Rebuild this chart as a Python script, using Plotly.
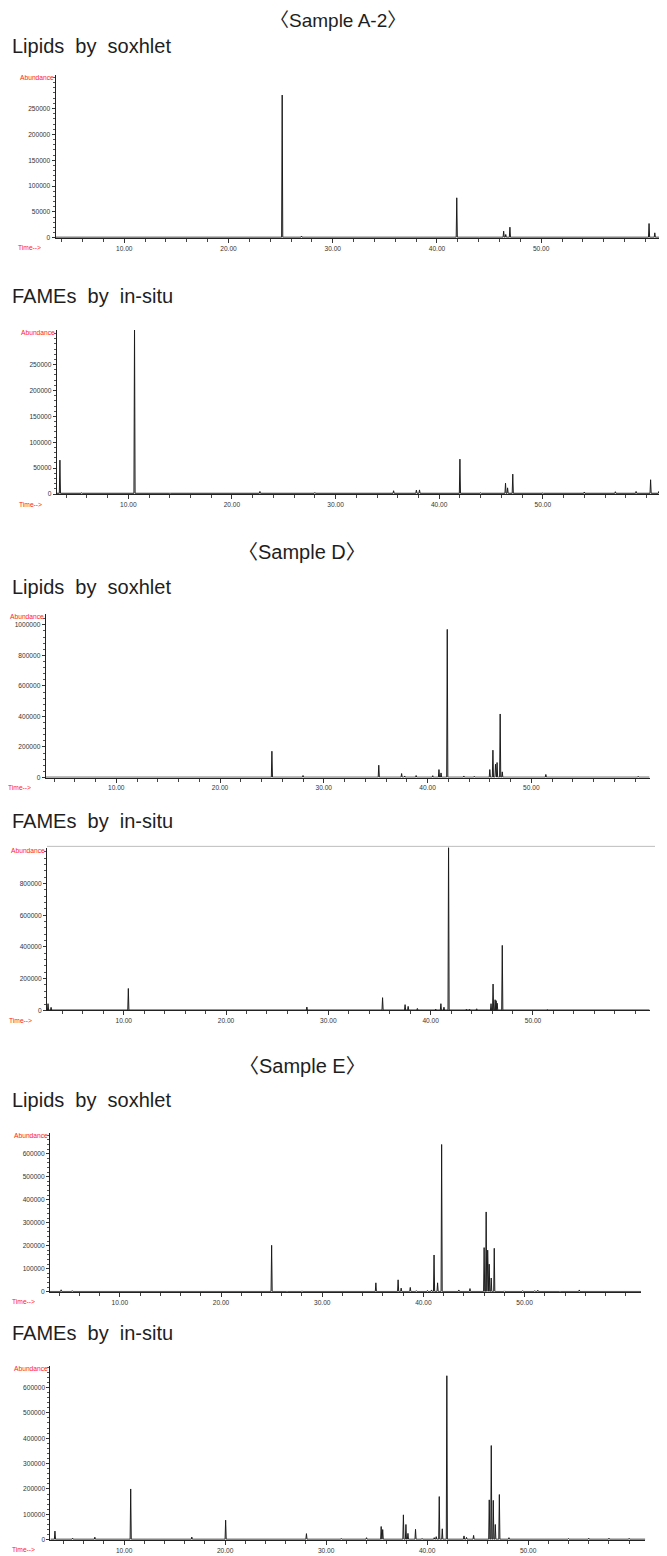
import plotly.graph_objects as go

# ---------------- data (retention time in min, abundance) ----------------
A2_LIPID_RT = [4.5, 8.0, 12.0, 17.0, 22.0, 25.15, 27.0, 30.0, 33.0, 37.5, 41.9, 44.0, 46.4, 46.6, 47.0, 52.0, 56.0, 60.35, 60.9]
A2_LIPID_AB = [2000, 2000, 1800, 2000, 1800, 276000, 3500, 1800, 2000, 2500, 77400, 2000, 12900, 6500, 20600, 2000, 2500, 27700, 9700]

A2_FAME_RT = [3.4, 5.5, 10.6, 14.0, 22.7, 28.0, 35.6, 37.8, 38.1, 42.0, 44.0, 46.4, 46.6, 47.1, 50.0, 54.0, 57.0, 59.0, 60.4, 61.2]
A2_FAME_AB = [65500, 2500, 330000, 2000, 5000, 3000, 6400, 7700, 8000, 67400, 2500, 21000, 12000, 38500, 2500, 4000, 4500, 5000, 27600, 5000]

D_LIPID_RT = [25.0, 28.0, 35.3, 37.5, 37.8, 38.9, 40.5, 41.1, 41.3, 41.9, 43.5, 44.5, 46.0, 46.3, 46.55, 46.7, 47.0, 47.2, 51.4, 55.0, 59.0, 60.3]
D_LIPID_AB = [172000, 13000, 80600, 26000, 10000, 13000, 12000, 52000, 30000, 970000, 10000, 8000, 52000, 179000, 87000, 98000, 416000, 37000, 20000, 4000, 6000, 8000]

D_FAME_RT = [2.6, 2.9, 10.45, 27.9, 34.0, 35.3, 37.5, 37.8, 38.7, 40.5, 41.0, 41.3, 41.75, 43.5, 43.8, 44.5, 45.9, 46.1, 46.3, 46.4, 46.5, 47.0, 51.4, 55.2, 60.2]
D_FAME_AB = [42000, 19000, 138000, 21000, 5000, 80000, 36000, 25000, 12000, 8000, 42000, 20000, 1080000, 8000, 8000, 10000, 42000, 166000, 67000, 61000, 45000, 410000, 6000, 4000, 6000]

E_LIPID_RT = [4.2, 5.3, 23.4, 24.0, 25.0, 26.5, 28.0, 34.0, 35.3, 37.5, 37.8, 38.7, 39.3, 40.4, 40.8, 41.05, 41.4, 41.8, 43.5, 44.6, 46.0, 46.2, 46.35, 46.5, 46.7, 47.0, 48.0, 49.8, 51.0, 51.3, 53.5, 55.4, 57.0, 58.5, 60.0]
E_LIPID_AB = [8700, 5000, 2000, 2500, 202000, 2500, 4000, 3000, 39000, 52000, 16000, 19000, 5000, 6000, 8000, 160000, 39000, 640000, 8000, 14000, 192000, 347000, 181000, 120000, 60000, 189000, 4000, 5000, 5000, 7000, 3000, 8000, 3500, 4000, 3500]

E_FAME_RT = [3.15, 4.9, 7.1, 10.65, 16.7, 20.05, 28.05, 31.5, 34.0, 35.45, 35.6, 37.65, 37.9, 38.1, 38.85, 39.5, 40.7, 40.9, 41.2, 41.5, 41.95, 43.65, 43.9, 44.6, 46.15, 46.35, 46.55, 46.75, 47.15, 48.1, 49.9, 54.0, 56.0, 58.0, 60.0]
E_FAME_AB = [34000, 6000, 10000, 200000, 10500, 77000, 24000, 5000, 8000, 52000, 40000, 98000, 60000, 25000, 41000, 5000, 8000, 12000, 170000, 43000, 646000, 15000, 9000, 17000, 157000, 371000, 155000, 60000, 178000, 8000, 4000, 5000, 6000, 6000, 5500]

TIME_TICKS = [10, 20, 30, 40, 50]
TIME_LABELS = ["10.00", "20.00", "30.00", "40.00", "50.00"]
Y_TICKS_A2 = [0, 50000, 100000, 150000, 200000, 250000]
Y_TICKS_D_LIPID = [0, 200000, 400000, 600000, 800000, 1000000]
Y_TICKS_D_FAME = [0, 200000, 400000, 600000, 800000]
Y_TICKS_E = [0, 100000, 200000, 300000, 400000, 500000, 600000]

SECTION_TITLES = ["\u3008Sample A-2\u3009", "\u3008Sample D\u3009", "\u3008Sample E\u3009"]
PANEL_TITLES = ["Lipids\u00a0 by\u00a0 soxhlet", "FAMEs\u00a0 by\u00a0 in-situ"]

# ---------------- geometry / styling ----------------
PAGE_W, PAGE_H = 667, 1556
OFF = 8  # default page body margin in the written HTML
W, H = PAGE_W - OFF, PAGE_H - OFF
HALF_W = 0.055  # peak half-width (min)


def fx(px):
    return (px - OFF) / W


def fy(py):
    return 1 - (py - OFF) / H


panels = [
    # rt, ab, baseline, page-pixel geometry (left, right, zero, top), x range, ymax, yticks, minor dtick
    dict(rt=A2_LIPID_RT, ab=A2_LIPID_AB, base=1200, px=(55.5, 660, 238.3, 75), xr=(3.4, 61.4), ymax=315000, yt=Y_TICKS_A2, ym=10000),
    dict(rt=A2_FAME_RT, ab=A2_FAME_AB, base=1500, px=(56.8, 662, 495, 330.7), xr=(3.1, 61.5), ymax=316600, yt=Y_TICKS_A2, ym=10000),
    dict(rt=D_LIPID_RT, ab=D_LIPID_AB, base=2000, px=(45.7, 649.6, 779, 615), xr=(3.2, 61.4), ymax=1072000, yt=Y_TICKS_D_LIPID, ym=40000),
    dict(rt=D_FAME_RT, ab=D_FAME_AB, base=2000, px=(47, 649.6, 1012.3, 849.3), xr=(2.5, 61.4), ymax=1026800, yt=Y_TICKS_D_FAME, ym=40000),
    dict(rt=E_LIPID_RT, ab=E_LIPID_AB, base=1500, px=(50, 641, 1294.3, 1135), xr=(3.1, 61.5), ymax=690800, yt=Y_TICKS_E, ym=20000),
    dict(rt=E_FAME_RT, ab=E_FAME_AB, base=2000, px=(50.4, 645.3, 1542.7, 1369), xr=(2.7, 61.6), ymax=683000, yt=Y_TICKS_E, ym=20000),
]

fig = go.Figure()
TICK_FONT = dict(family="Liberation Sans, Arial, sans-serif", size=6.6, color="#333")
RED_FONT = dict(family="Liberation Sans, Arial, sans-serif", size=6.7, color="#ff2020")

for i, p in enumerate(panels, start=1):
    pairs = sorted(zip(p["rt"], p["ab"]))
    xs, ys = [p["xr"][0]], [p["base"]]
    for t, a in pairs:
        xs += [t - HALF_W, t, t + HALF_W]
        ys += [p["base"], a, p["base"]]
    xs.append(p["xr"][1])
    ys.append(p["base"])
    sfx = "" if i == 1 else str(i)
    fig.add_trace(go.Scatter(x=xs, y=ys, mode="lines", line=dict(color="#1c1c1c", width=1),
                             xaxis="x" + sfx, yaxis="y" + sfx, showlegend=False, hoverinfo="skip"))
    left, right, zero, top = p["px"]
    fig.layout["xaxis" + sfx] = dict(
        domain=[fx(left), min(fx(right), 1)], range=list(p["xr"]), anchor="y" + sfx,
        showgrid=False, zeroline=False, showline=True, linecolor="#222", linewidth=1,
        tickmode="array", tickvals=TIME_TICKS, ticktext=TIME_LABELS,
        ticks="outside", ticklen=4, tickcolor="#333", tickfont=TICK_FONT,
        minor=dict(dtick=2, tick0=0, ticks="outside", ticklen=3, tickcolor="#444"),
        fixedrange=True,
    )
    fig.layout["yaxis" + sfx] = dict(
        domain=[fy(zero), fy(top)], range=[0, p["ymax"]], anchor="x" + sfx,
        showgrid=False, zeroline=False, showline=True, linecolor="#222", linewidth=1,
        tickmode="array", tickvals=p["yt"], ticktext=[str(v) for v in p["yt"]],
        ticks="outside", ticklen=3, tickcolor="#333", tickfont=TICK_FONT,
        minor=dict(dtick=p["ym"], tick0=0, ticks="outside", ticklen=2, tickcolor="#555"),
        fixedrange=True,
    )
    fig.add_annotation(x=fx(left), y=fy(top + 2.5), xref="paper", yref="paper",
                       text="Abundance", showarrow=False, xanchor="right", yanchor="middle",
                       font=RED_FONT)
    fig.add_annotation(x=fx(left - 13), y=fy(zero + 10), xref="paper", yref="paper",
                       text="Time-->", showarrow=False, xanchor="right", yanchor="middle",
                       font=RED_FONT)

TITLE_FONT = dict(family="Liberation Sans, Noto Sans CJK KR, sans-serif", size=20, color="#1e1e1e")
# first section title is anchored to the top edge so it is not clipped
fig.add_annotation(x=fx(338), y=1.0, xref="paper", yref="paper", text=SECTION_TITLES[0],
                   showarrow=False, xanchor="center", yanchor="top",
                   font=dict(TITLE_FONT, size=19))
for txt, (cx, cy) in zip(SECTION_TITLES[1:], [(302, 553), (302, 1068)]):
    fig.add_annotation(x=fx(cx), y=fy(cy), xref="paper", yref="paper", text=txt,
                       showarrow=False, xanchor="center", yanchor="middle", font=TITLE_FONT)
for k, cy in enumerate([46, 297, 588, 823, 1102, 1336]):
    fig.add_annotation(x=fx(10), y=fy(cy), xref="paper", yref="paper", text=PANEL_TITLES[k % 2],
                       showarrow=False, xanchor="left", yanchor="middle", font=TITLE_FONT)

fig.add_shape(type="line", xref="paper", yref="paper", x0=fx(47), x1=fx(655),
              y0=fy(848), y1=fy(848), line=dict(color="#bdbdbd", width=1))

fig.update_layout(width=W, height=H, margin=dict(l=0, r=0, t=0, b=0),
                  paper_bgcolor="white", plot_bgcolor="white", showlegend=False)

fig.write_html("out.html")
